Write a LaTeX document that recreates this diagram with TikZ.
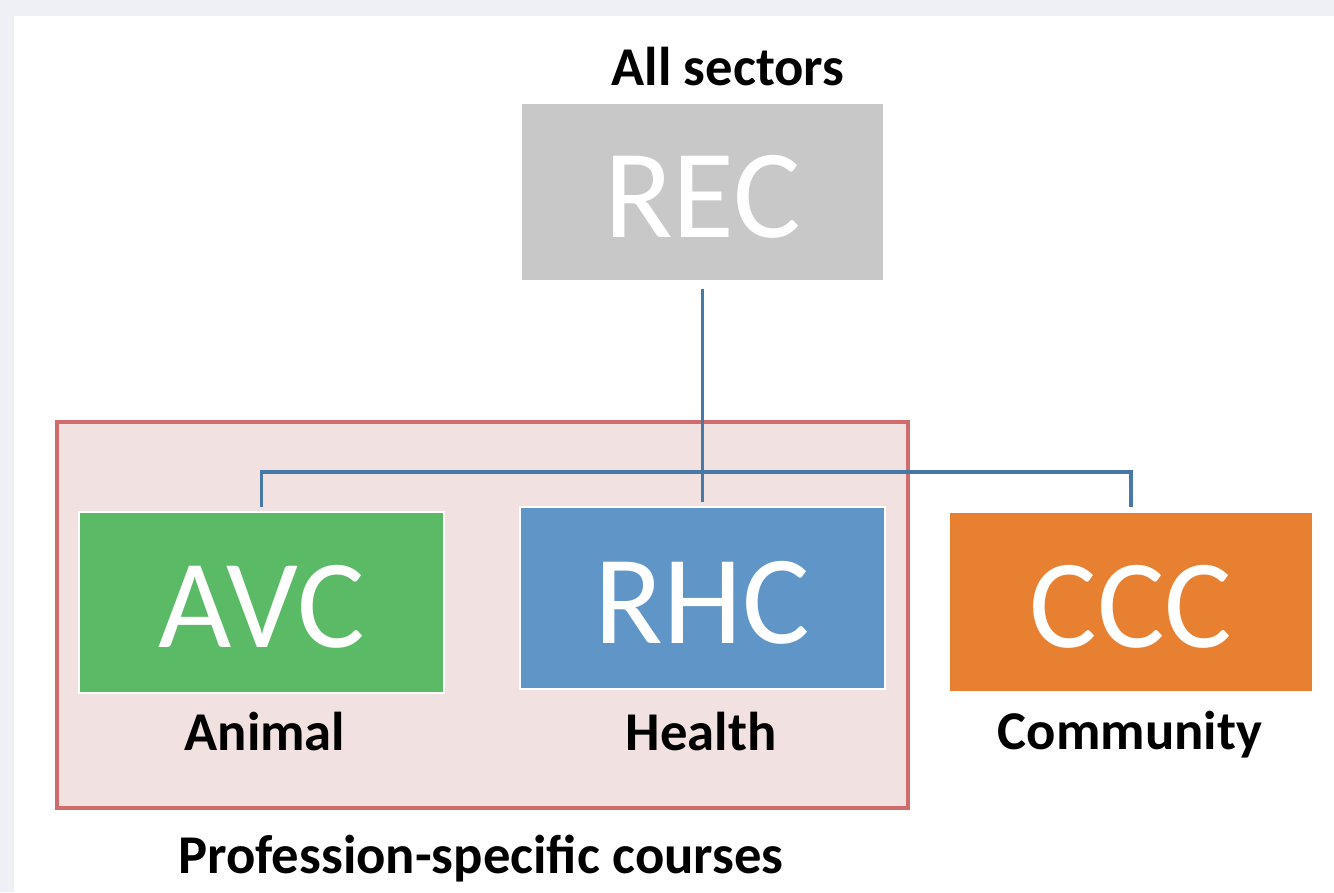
\documentclass[tikz,border=0pt]{standalone}
\usepackage{fontspec}
\setmainfont{Carlito}
\usepackage{tikz}
\usetikzlibrary{positioning}

\definecolor{pagegrey}{HTML}{EEF0F5}
\definecolor{recgrey}{HTML}{C8C8C8}
\definecolor{avcgreen}{HTML}{5BBA66}
\definecolor{rhcblue}{HTML}{6096C7}
\definecolor{cccorange}{HTML}{E88032}
\definecolor{linkblue}{HTML}{4878A6}
\definecolor{framered}{HTML}{D06C6C}
\definecolor{framefill}{HTML}{F2E1E1}

\tikzset{
  course/.style={rectangle, draw=white, line width=1.5pt, text=white,
    font=\fontsize{95}{95}\selectfont,
    text height=68pt, text depth=0pt,
    minimum width=274pt, minimum height=136pt, inner sep=0pt},
  caption/.style={anchor=base, font=\fontsize{41}{41}\selectfont\bfseries},
  link/.style={draw=linkblue, line width=2.6pt}
}

\begin{document}
\begin{tikzpicture}[x=0.75pt, y=-0.75pt]

    % page
    \fill[pagegrey] (0,0) rectangle (1334,892);
    \fill[white] (14,16) rectangle (1334,892);
    \useasboundingbox (0,0) rectangle (1334,892);

    % profession-specific group
    \draw[framered, fill=framefill, line width=2.6pt]
      (57,422) rectangle (908,808);

    \node[course, fill=recgrey, minimum width=272pt, minimum height=134pt]
      (REC) at (702.5,192) {REC};
    \node[course, fill=avcgreen]
      (AVC) at (261.5,602.5) {AVC};
    \node[course, fill=rhcblue]
      (RHC) at (702.5,598) {RHC};
    \node[course, fill=cccorange, minimum width=273pt, minimum height=135pt]
      (CCC) at (1131,602) {CCC};

    \coordinate (hub) at (702.5,472);

    \node[caption] (AllSectors) at (728,85) {All sectors};
    \node[caption] (Animal) at (265,750) {Animal};
    \node[caption] (Health) at (701,750) {Health};
    \node[caption] (Community) at (1130,749) {Community};
    \node[caption] (Profession) at (481,873) {Profession-specific courses};

    \path[link]
      (REC.south) edge [shorten <=5pt] (hub)
      (hub) edge [shorten >=3pt] (RHC.north);
    \draw[link, shorten >=3pt] (hub) -| (AVC.north);
    \draw[link, shorten >=3pt] (hub) -| (CCC.north);

\end{tikzpicture}
\end{document}
